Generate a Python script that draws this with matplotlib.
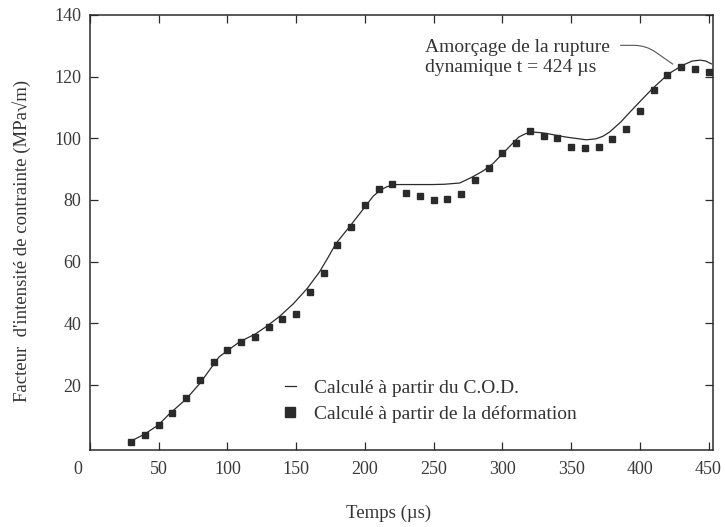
import matplotlib.pyplot as plt
from matplotlib.transforms import ScaledTranslation

plt.rcParams['font.family'] = ['Liberation Serif', 'DejaVu Serif']
ink = '#2b2b2b'

# K(t) computed from the crack opening displacement (continuous curve)
t_cod = [29, 40, 50, 58, 70, 80, 94, 109, 120, 128, 138, 148, 158, 167, 173,
         179, 190, 201, 206, 211, 216, 223, 236, 249, 258, 269, 278, 286, 293,
         303, 312, 317, 322, 328, 334, 346, 361, 368, 373, 378, 386, 395, 409,
         421, 431, 438, 444, 448, 452]
k_cod = [1.7, 4.2, 7.2, 10.8, 15.5, 20.6, 29.2, 34.1, 36.5, 38.9, 42.3, 46.4,
         51.3, 56.7, 61.2, 65.9, 72.0, 78.3, 81.2, 83.1, 84.3, 85.0, 85.0,
         85.0, 85.1, 85.5, 87.4, 89.4, 91.7, 96.3, 100.4, 101.5, 102.0, 101.8,
         101.4, 100.4, 99.5, 99.8, 100.6, 102.0, 105.2, 109.5, 116.0, 120.9,
         123.6, 125.0, 125.3, 125.0, 124.1]

# K(t) computed from strain gauge readings (squares)
t_def = list(range(30, 451, 10))
k_def = [1.7, 4.0, 7.0, 11.0, 16.0, 21.8, 27.4, 31.3, 33.9, 35.6, 38.9, 41.3,
         43.2, 50.2, 56.4, 65.3, 71.1, 78.3, 83.4, 85.2, 82.2, 81.2, 79.9,
         80.2, 81.8, 86.6, 90.3, 95.3, 98.4, 102.2, 100.6, 100.0, 97.1, 96.8,
         97.1, 99.8, 103.1, 108.9, 115.7, 120.6, 123.0, 122.5, 121.6]

x_ticks = [0, 50, 100, 150, 200, 250, 300, 350, 400, 450]
y_ticks = [20, 40, 60, 80, 100, 120, 140]
t_init = 424

fig = plt.figure(figsize=(7.25, 5.27), dpi=100)
ax = fig.add_axes([0.124, 0.146, 0.859, 0.826])

ax.plot(t_cod, k_cod, '-', color=ink, lw=0.9,
        label=u"Calculé à partir du C.O.D.")
ax.plot(t_def, k_def, 's', color=ink, ms=4.2, mec=ink, ls='none',
        label=u"Calculé à partir de la déformation")

ax.set_xlim(0, 453)
ax.set_ylim(-1, 140)
ax.set_xticks(x_ticks)
ax.set_yticks(y_ticks)
ax.tick_params(direction='in', length=6, width=0.9, top=True, right=True,
               labelsize=13, colors=ink, labelcolor='#3a3a3a', pad=6)
ax.tick_params(axis='x', pad=8)
for s in ax.spines.values():
    s.set_color(ink)
    s.set_linewidth(1.1)

# the "0" label sits a little left of its tick
lbl0 = ax.get_xticklabels()[0]
lbl0.set_transform(lbl0.get_transform() + ScaledTranslation(-0.12, 0, fig.dpi_scale_trans))

ax.set_xlabel(u"Temps (µs)", fontsize=13.5, color='#333333', labelpad=18)
ax.set_ylabel(u"Facteur  d'intensité de contrainte (MPa√m)", fontsize=13.5,
              color='#333333')
ax.xaxis.set_label_coords(0.48, -0.125)
ax.yaxis.set_label_coords(-0.095, 0.48)

# rupture initiation note with leader line
ax.text(244, 126.1, u"Amorçage de la rupture\ndynamique t = 424 µs",
        fontsize=14, color='#333333', va='center', ha='left', linespacing=1.2)
k_init = 124.0
ax.annotate('', xy=(t_init, k_init), xytext=(386, 130.1),
            arrowprops=dict(arrowstyle='-', color='#555555', lw=0.8,
                            connectionstyle='angle,angleA=0,angleB=145,rad=12',
                            shrinkA=0, shrinkB=0))

leg = ax.legend(loc='center left', bbox_to_anchor=(0.3, 0.112), frameon=False,
                fontsize=14, handlelength=0.6, handletextpad=0.9,
                labelspacing=0.4, borderaxespad=0, markerscale=1.6)
for txt in leg.get_texts():
    txt.set_color('#333333')

fig.savefig('out.png', dpi=100)
